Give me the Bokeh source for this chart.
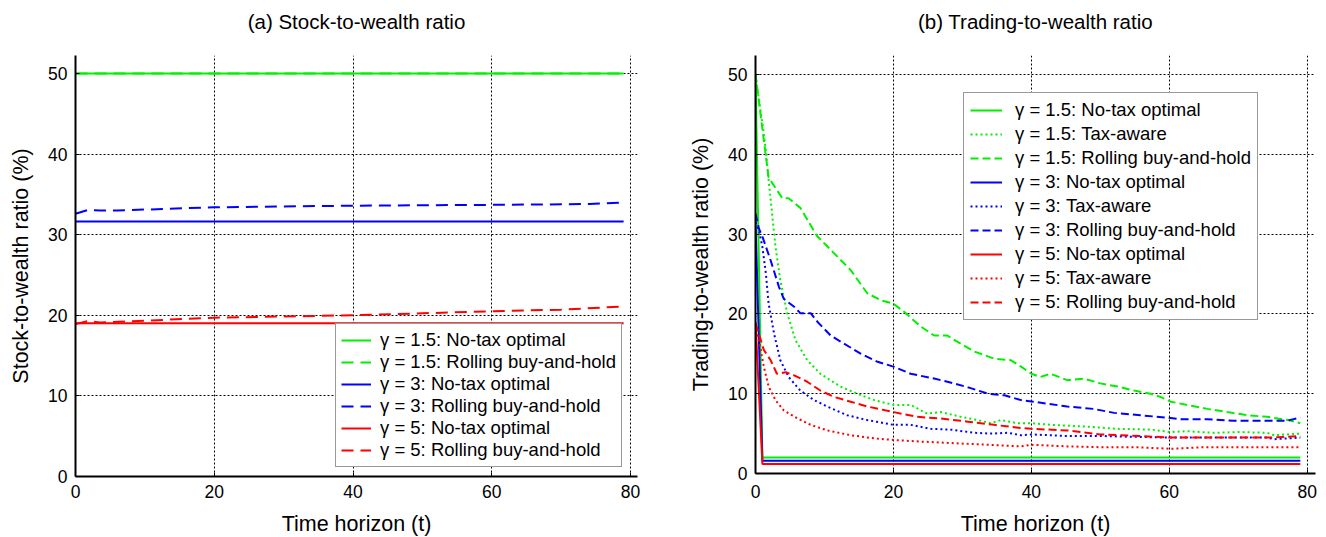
from bokeh.plotting import figure
from bokeh.models import Range1d, FixedTicker, Legend, LegendItem
from bokeh.layouts import row, column
from bokeh.core.properties import value
from bokeh.embed import file_html
from bokeh.resources import INLINE

FONT = "Liberation Sans"
GREEN = "#00f000"
BLUE = "#0000ff"
RED = "#ff0000"

panel_titles = ["(a) Stock-to-wealth ratio", "(b) Trading-to-wealth ratio"]
x_ticks = [0, 20, 40, 60, 80]
y_ticks = [0, 10, 20, 30, 40, 50]

# ---- Panel (a): stock-to-wealth ratio (%) ----
a_t_flat = [0, 79]
a_g15_notax = [50, 50]
a_g15_roll = [50, 50]
a_g3_notax = [31.65, 31.65]
a_g5_notax = [19.0, 19.0]
a_g3_roll_t = [0, 1.8, 3.6, 6, 20, 40, 60, 74, 79]
a_g3_roll = [32.6, 33.06, 33.0, 33.0, 33.4, 33.6, 33.7, 33.8, 34.0]
a_g5_roll_t = [0, 1.8, 3.5, 20, 40, 50, 60, 70, 79]
a_g5_roll = [18.9, 19.3, 19.1, 19.7, 20.0, 20.25, 20.5, 20.7, 21.1]

# ---- Panel (b): trading-to-wealth ratio (%) ----
b_notax_t = [0, 1, 79]
b_g15_notax = [50, 2.0, 2.0]
b_g3_notax = [31.6, 1.6, 1.6]
b_g5_notax = [19.0, 1.2, 1.2]

b_g15_ta_t = [0, 0.5, 1, 1.5, 1.9, 2.4, 2.9, 3.6, 4.6, 5.8, 7.5, 9.4, 12.3, 14.8, 17.2, 20,
              22.5, 24.9, 26.9, 29.8, 32.2, 34.1, 35.6, 38, 40, 42.8, 47.6, 52.5, 57.3, 60.2,
              62.6, 66.5, 70.3, 74.2, 75.2, 79]
b_g15_ta = [50, 46.8, 43.9, 40.5, 36.8, 32.6, 28.4, 24.2, 20.1, 16.7, 14.2, 12.5, 10.9, 10.0,
            9.2, 8.6, 8.6, 7.5, 7.7, 7.1, 6.7, 6.3, 6.7, 6.3, 6.3, 6.1, 5.9, 5.6, 5.5, 5.2,
            5.3, 5.1, 5.2, 5.1, 4.8, 5.0]

b_g15_roll_t = [0, 1.9, 3.9, 4.8, 6.5, 8.9, 11.4, 13.8, 16.2, 18.2, 20, 21.5, 24, 25.9, 27.8,
                29.3, 31.7, 34.6, 37, 38.5, 40, 41.3, 42.8, 45.2, 47.6, 50, 52.5, 54.9, 57.3,
                58.7, 60.2, 62.6, 65.5, 68.4, 71.4, 74.2, 77.2, 79]
b_g15_roll = [50, 37.1, 34.5, 34.5, 33.3, 29.8, 27.6, 25.5, 22.6, 21.7, 21.3, 20.3, 18.4, 17.3,
              17.3, 16.5, 15.3, 14.4, 14.2, 13.4, 12.5, 12.1, 12.5, 11.7, 11.9, 11.3, 10.9,
              10.4, 10.0, 9.6, 9.0, 8.6, 8.1, 7.7, 7.3, 7.1, 6.7, 6.3]

b_g3_ta_t = [0, 0.5, 1, 1.5, 1.9, 2.7, 3.6, 4.8, 6.5, 8.5, 10.4, 13.3, 16.2, 20, 22.5, 25.4,
             28.3, 31.7, 34.1, 36.6, 38.5, 40, 45.2, 50, 54.9, 59.7, 64.5, 69.3, 74.2, 75.2, 79]
b_g3_ta = [31.5, 30.5, 28.4, 25.1, 21.3, 17.5, 14.2, 12.1, 10.4, 9.2, 8.4, 7.3, 6.7, 6.1, 6.1,
           5.6, 5.5, 5.1, 5.0, 5.1, 4.8, 4.9, 4.7, 4.7, 4.6, 4.5, 4.5, 4.5, 4.5, 4.3, 4.5]

b_g3_roll_t = [0, 0.5, 1, 2.2, 3.4, 4.1, 5.6, 6.5, 8, 9, 10.9, 12.8, 15.3, 17.7, 20, 22.5,
               25.9, 28.8, 31.2, 33.7, 36.1, 38.5, 40.3, 45.2, 49, 52, 55.8, 59.7, 61.6, 65.5,
               69.3, 73.1, 77, 79]
b_g3_roll = [32.6, 30.7, 29.7, 26.7, 23.4, 21.9, 20.9, 20.1, 20.1, 19.0, 17.3, 16.3, 15.0,
             14.0, 13.4, 12.5, 11.9, 11.3, 10.7, 10.0, 9.8, 9.2, 9.0, 8.4, 8.1, 7.6, 7.3, 7.0,
             6.8, 6.8, 6.6, 6.6, 6.6, 7.0]

b_g5_ta_t = [0, 0.5, 1.2, 1.9, 2.9, 4.1, 6.1, 8, 10.4, 13.8, 17.2, 20, 24, 28.8, 33.7, 38.5,
             40, 45.2, 50, 55, 60.2, 65, 70, 75, 79]
b_g5_ta = [18.0, 16.7, 13.4, 10.9, 9.2, 7.9, 6.9, 6.1, 5.4, 4.8, 4.4, 4.2, 4.0, 3.8, 3.6, 3.4,
           3.6, 3.4, 3.3, 3.3, 3.1, 3.3, 3.3, 3.3, 3.3]

b_g5_roll_t = [0, 0.5, 1.2, 2.2, 3.1, 4.4, 5.6, 7.5, 9.4, 11.4, 13.8, 16.2, 20, 23.5, 26.9,
               30.8, 34.6, 38.5, 40, 45.2, 50, 55.8, 60.2, 64.5, 69.3, 74.2, 77, 79]
b_g5_roll = [18.8, 17.5, 15.5, 14.2, 12.5, 12.7, 12.3, 11.5, 10.4, 9.6, 9.0, 8.4, 7.7, 7.1,
             6.9, 6.5, 6.1, 5.7, 5.6, 5.4, 4.9, 4.7, 4.5, 4.5, 4.5, 4.5, 4.6, 4.7]

TITLE_H = 40


def make_title(text, width, cx):
    t = figure(output_backend="svg", toolbar_location=None, width=width, height=TITLE_H,
               x_range=Range1d(0, width), y_range=Range1d(0, TITLE_H),
               x_axis_type=None, y_axis_type=None, min_border=0)
    t.outline_line_color = None
    t.background_fill_color = "white"
    t.border_fill_color = "white"
    t.text(x=[cx], y=[TITLE_H - 20.5], text=[text], text_align="center",
           text_baseline="middle", text_font=value(FONT), text_font_size="20.5px",
           text_color="black")
    return t


def make_fig(ylabel, frame_w, frame_h, bl, br, bt, bb, xmax, ymax, x_major_so, x_label_so):
    p = figure(output_backend="svg", toolbar_location=None,
               frame_width=frame_w, frame_height=frame_h,
               min_border_left=bl, min_border_right=br, min_border_top=bt, min_border_bottom=bb,
               x_range=Range1d(0, xmax), y_range=Range1d(0, ymax))
    p.outline_line_color = None
    p.background_fill_color = "white"
    p.border_fill_color = "white"
    for ax in (p.xaxis[0], p.yaxis[0]):
        ax.axis_line_width = 2
        ax.axis_line_color = "black"
        ax.major_tick_in = 4
        ax.major_tick_out = 0
        ax.major_tick_line_color = "black"
        ax.minor_tick_line_color = None
        ax.major_label_text_font = FONT
        ax.major_label_text_font_size = "17.5px"
        ax.major_label_text_color = "black"
        ax.axis_label_text_font = FONT
        ax.axis_label_text_font_size = "21.5px"
        ax.axis_label_text_font_style = "normal"
        ax.axis_label_text_color = "black"
    p.xaxis.ticker = FixedTicker(ticks=x_ticks)
    p.yaxis.ticker = FixedTicker(ticks=y_ticks)
    p.xaxis.axis_label = "Time horizon (t)"
    p.yaxis.axis_label = ylabel
    p.xaxis.major_label_standoff = x_major_so
    p.yaxis.major_label_standoff = 8
    p.xaxis.axis_label_standoff = x_label_so
    p.yaxis.axis_label_standoff = 12
    for g in (p.xgrid[0], p.ygrid[0]):
        g.grid_line_color = "black"
        g.grid_line_dash = "2 2"
        g.grid_line_width = 1
    return p


# ---------- panel (a)
pa = make_fig("Stock-to-wealth ratio (%)",
              562, 421, 75, 26, 55 - TITLE_H, 61, 81.0, 52.23, 8, 11)
DASH_A = "12 7"
ra1d = pa.line(a_t_flat, a_g15_roll, color=GREEN, line_width=2, line_dash=DASH_A)
ra1 = pa.line(a_t_flat, a_g15_notax, color=GREEN, line_width=2)
ra2 = pa.line(a_t_flat, a_g3_notax, color=BLUE, line_width=2)
ra2d = pa.line(a_g3_roll_t, a_g3_roll, color=BLUE, line_width=2, line_dash=DASH_A)
ra3 = pa.line(a_t_flat, a_g5_notax, color=RED, line_width=2)
ra3d = pa.line(a_g5_roll_t, a_g5_roll, color=RED, line_width=2, line_dash=DASH_A)

leg_a = Legend(items=[
    LegendItem(label="γ = 1.5: No-tax optimal", renderers=[ra1]),
    LegendItem(label="γ = 1.5: Rolling buy-and-hold", renderers=[ra1d]),
    LegendItem(label="γ = 3: No-tax optimal", renderers=[ra2]),
    LegendItem(label="γ = 3: Rolling buy-and-hold", renderers=[ra2d]),
    LegendItem(label="γ = 5: No-tax optimal", renderers=[ra3]),
    LegendItem(label="γ = 5: Rolling buy-and-hold", renderers=[ra3d]),
], location=(260, 9), padding=5, spacing=0, glyph_width=30, glyph_height=20,
    label_height=20, label_standoff=9, margin=0)

# ---------- panel (b)
pb = make_fig("Trading-to-wealth ratio (%)",
              560, 418, 92, 3, 55 - TITLE_H, 64, 81.2, 52.4, 11, 11)
DASH_B = "8 4"
DOT_B = "2 3"
rb = {}
rb["g15n"] = pb.line(b_notax_t, b_g15_notax, color=GREEN, line_width=2)
rb["g15t"] = pb.line(b_g15_ta_t, b_g15_ta, color=GREEN, line_width=2, line_dash=DOT_B)
rb["g15r"] = pb.line(b_g15_roll_t, b_g15_roll, color=GREEN, line_width=2, line_dash=DASH_B)
rb["g3n"] = pb.line(b_notax_t, b_g3_notax, color=BLUE, line_width=2)
rb["g3t"] = pb.line(b_g3_ta_t, b_g3_ta, color=BLUE, line_width=2, line_dash=DOT_B)
rb["g3r"] = pb.line(b_g3_roll_t, b_g3_roll, color=BLUE, line_width=2, line_dash=DASH_B)
rb["g5n"] = pb.line(b_notax_t, b_g5_notax, color=RED, line_width=2)
rb["g5t"] = pb.line(b_g5_ta_t, b_g5_ta, color=RED, line_width=2, line_dash=DOT_B)
rb["g5r"] = pb.line(b_g5_roll_t, b_g5_roll, color=RED, line_width=2, line_dash=DASH_B)

leg_b = Legend(items=[
    LegendItem(label="γ = 1.5: No-tax optimal", renderers=[rb["g15n"]]),
    LegendItem(label="γ = 1.5: Tax-aware", renderers=[rb["g15t"]]),
    LegendItem(label="γ = 1.5: Rolling buy-and-hold", renderers=[rb["g15r"]]),
    LegendItem(label="γ = 3: No-tax optimal", renderers=[rb["g3n"]]),
    LegendItem(label="γ = 3: Tax-aware", renderers=[rb["g3t"]]),
    LegendItem(label="γ = 3: Rolling buy-and-hold", renderers=[rb["g3r"]]),
    LegendItem(label="γ = 5: No-tax optimal", renderers=[rb["g5n"]]),
    LegendItem(label="γ = 5: Tax-aware", renderers=[rb["g5t"]]),
    LegendItem(label="γ = 5: Rolling buy-and-hold", renderers=[rb["g5r"]]),
], location=(208, 153), padding=6, spacing=2, glyph_width=32, glyph_height=20,
    label_height=20, label_standoff=13, margin=0)

for leg in (leg_a, leg_b):
    leg.label_text_font = FONT
    leg.label_text_font_size = "18.5px"
    leg.label_text_color = "black"
    leg.border_line_color = "#333333"
    leg.border_line_width = 1.5
    leg.background_fill_color = "white"
    leg.background_fill_alpha = 1.0

pa.add_layout(leg_a, "center")
pb.add_layout(leg_b, "center")

ta = make_title(panel_titles[0], 663, 75 + 562 / 2)
tb = make_title(panel_titles[1], 655, 92 + 560 / 2)

layout = column(row(ta, tb, spacing=0), row(pa, pb, spacing=0), spacing=0)
open("out.html", "w").write(file_html(layout, INLINE))
